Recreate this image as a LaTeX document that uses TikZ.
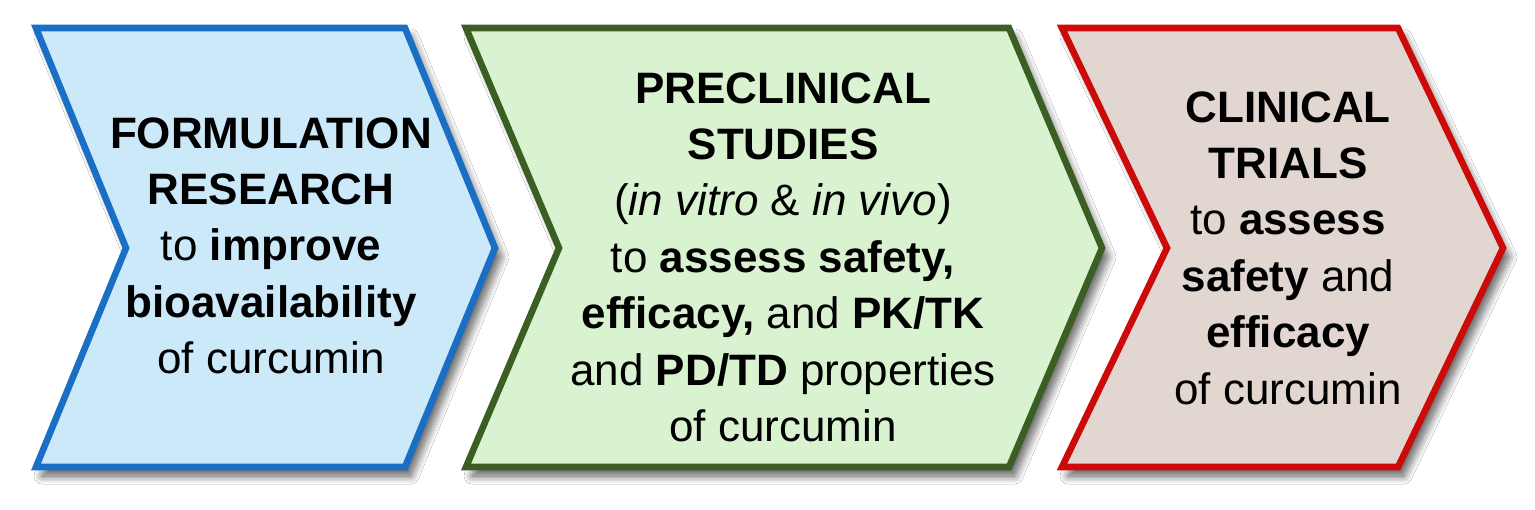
\documentclass[tikz,border=0pt]{standalone}
\usepackage{fontspec}
\setmainfont{Liberation Sans}
\usetikzlibrary{calc,shadows.blur}
\definecolor{formblue}{HTML}{1A6FC4}
\definecolor{formfill}{HTML}{CBE9F9}
\definecolor{precgreen}{HTML}{3B5E22}
\definecolor{precfill}{HTML}{D9F2D0}
\definecolor{clinred}{HTML}{CC0A0A}
\definecolor{clinfill}{HTML}{E1D6D0}
\def\chevron[#1](#2:#3:#4){\draw[#1] (#2,28) -- (#3,28) -- (#3+#4,248) -- (#3,467) -- (#2,467) -- (#2+#4,248) -- cycle;}

\begin{document}
\begin{tikzpicture}[x=0.5pt, y=-0.5pt,
		stage/.style={line width=3.3pt, line join=miter, blur shadow={shadow xshift=3pt, shadow yshift=-4.5pt, shadow blur radius=4pt, shadow blur steps=12, shadow opacity=65}},
		stagetext/.style={font=\fontsize{22}{28.2}\selectfont, align=center, inner sep=0pt, anchor=north}]
		%%%%% START %%%%%
		
		\path[fill=white, use as bounding box] (0, 0) rectangle (1535, 509);
		
		\chevron[stage, draw=formblue, fill=formfill](36:405:90)
		\chevron[stage, draw=precgreen, fill=precfill](466:1009:93)
		\chevron[stage, draw=clinred, fill=clinfill](1062:1398:105)
		
		\node[stagetext] (formulation) at (271, 117) {\textbf{FORMULATION}\\\textbf{RESEARCH}\\to \textbf{improve}\\\textbf{bioavailability}\\of curcumin};
		\node[stagetext] (preclinical) at (783, 72) {\textbf{PRECLINICAL}\\\textbf{STUDIES}\\(\textit{in vitro} \& \textit{in vivo})\\to \textbf{assess safety,}\\\textbf{efficacy,} and \textbf{PK/TK}\\and \textbf{PD/TD} properties\\of curcumin};
		\node[stagetext] (clinical) at (1288, 91) {\textbf{CLINICAL}\\\textbf{TRIALS}\\to \textbf{assess}\\\textbf{safety} and\\\textbf{efficacy}\\of curcumin};
		
		%%%%% END %%%%%
	\end{tikzpicture}
\end{document}
